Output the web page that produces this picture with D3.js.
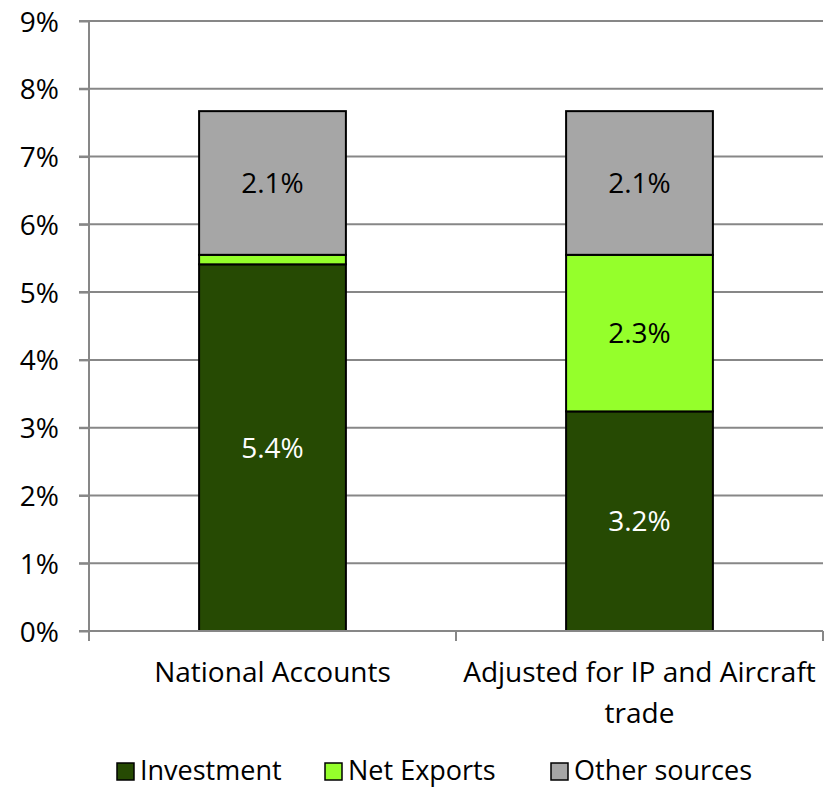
<!DOCTYPE html>
<html>
<head>
<meta charset="utf-8">
<script src="https://cdn.jsdelivr.net/npm/d3@7"></script>
<style>
  body { margin: 0; background: #fff; }
  text { font-family: "Open Sans", sans-serif; fill: #000; }
</style>
</head>
<body>
<div id="chart"></div>
<script>
// data
var categories = ["National Accounts", "Adjusted for IP and Aircraft trade"];
var investment = [5.41, 3.24];
var netExports = [0.14, 2.31];
var otherSources = [2.12, 2.12];
var seriesNames = ["Investment", "Net Exports", "Other sources"];
var seriesColors = ["#264A03", "#95FF2B", "#A6A6A6"];
var labelColors = ["#fff", "#000", "#000"];
var yTicks = [0, 1, 2, 3, 4, 5, 6, 7, 8, 9];

var width = 831, height = 789;
var margin = {left: 89, right: 8, top: 21, bottom: 158};

var svg = d3.select("#chart").append("svg")
    .attr("width", width)
    .attr("height", height);

var x = d3.scaleBand()
    .domain(categories)
    .range([margin.left, width - margin.right])
    .paddingInner(0.6)
    .paddingOuter(0.3);

var y = d3.scaleLinear()
    .domain([0, 9])
    .range([height - margin.bottom, margin.top]);

// table for the stack
var rows = categories.map(function(c, i) {
  return {cat: c, Investment: investment[i], "Net Exports": netExports[i], "Other sources": otherSources[i]};
});
var stack = d3.stack().keys(seriesNames)(rows);

// gridlines
svg.append("g")
  .selectAll("line")
  .data(yTicks.slice(1))
  .join("line")
  .attr("x1", margin.left - 10)
  .attr("x2", width - margin.right)
  .attr("y1", d => y(d))
  .attr("y2", d => y(d))
  .attr("stroke", "#878787")
  .attr("stroke-width", 2);

// y axis
var yAxis = svg.append("g")
  .attr("transform", "translate(" + margin.left + ",0)")
  .call(d3.axisLeft(y).tickValues(yTicks).tickSize(10).tickPadding(20).tickFormat(d => d + "%"));
yAxis.select(".domain").attr("stroke", "#878787").attr("stroke-width", 2).attr("d", "M0," + y(0) + "V" + y(9));
yAxis.selectAll(".tick line").attr("stroke", "#878787").attr("stroke-width", 2);
yAxis.selectAll(".tick text").style("font-size", "28px").attr("fill", "#000").attr("dy", "0.36em");

// bars
var layers = svg.append("g")
  .selectAll("g")
  .data(stack)
  .join("g")
  .attr("fill", (d, i) => seriesColors[i]);

layers.selectAll("rect")
  .data(d => d)
  .join("rect")
  .attr("x", d => x(d.data.cat))
  .attr("width", x.bandwidth())
  .attr("y", d => y(d[1]))
  .attr("height", d => y(d[0]) - y(d[1]))
  .attr("stroke", "#000")
  .attr("stroke-width", 2);

// value labels
stack.forEach(function(layer, i) {
  svg.append("g")
    .selectAll("text")
    .data(layer.filter(d => d[1] - d[0] >= 0.5))
    .join("text")
    .attr("x", d => x(d.data.cat) + x.bandwidth() / 2)
    .attr("y", d => y((d[0] + d[1]) / 2))
    .attr("dy", "0.36em")
    .attr("text-anchor", "middle")
    .style("font-size", "28px")
    .style("fill", labelColors[i])
    .text(d => (d[1] - d[0]).toFixed(1) + "%");
});

// x axis
var xg = svg.append("g").attr("transform", "translate(0," + y(0) + ")");
xg.append("line")
  .attr("x1", margin.left - 10).attr("x2", width - margin.right)
  .attr("stroke", "#878787").attr("stroke-width", 2);
var edges = [margin.left, margin.left + (width - margin.right - margin.left) / 2, width - margin.right];
xg.selectAll(".xt")
  .data(edges)
  .join("line")
  .attr("class", "xt")
  .attr("x1", d => d).attr("x2", d => d)
  .attr("y1", 0).attr("y2", 10)
  .attr("stroke", "#878787").attr("stroke-width", 2);

var catLines = [["National Accounts"], ["Adjusted for IP and Aircraft", "trade"]];
categories.forEach(function(c, i) {
  var cx = (edges[i] + edges[i + 1]) / 2;
  xg.append("text")
    .attr("text-anchor", "middle")
    .attr("x", cx)
    .style("font-size", "28px")
    .selectAll("tspan")
    .data(catLines[i])
    .join("tspan")
    .attr("x", cx)
    .attr("y", (d, j) => 51 + j * 41)
    .text(d => d);
});

// legend
var legendX = [117, 325, 551];
var legend = svg.append("g").attr("transform", "translate(0,771)");
var items = legend.selectAll("g")
  .data(seriesNames)
  .join("g")
  .attr("transform", (d, i) => "translate(" + legendX[i] + ",0)");
items.append("rect")
  .attr("x", 0).attr("y", -8)
  .attr("width", 17).attr("height", 17)
  .attr("fill", (d, i) => seriesColors[i])
  .attr("stroke", "#000").attr("stroke-width", 1.5);
items.append("text")
  .attr("x", 23)
  .attr("dy", "0.34em")
  .style("font-size", "27px")
  .text(d => d);
</script>
</body>
</html>
